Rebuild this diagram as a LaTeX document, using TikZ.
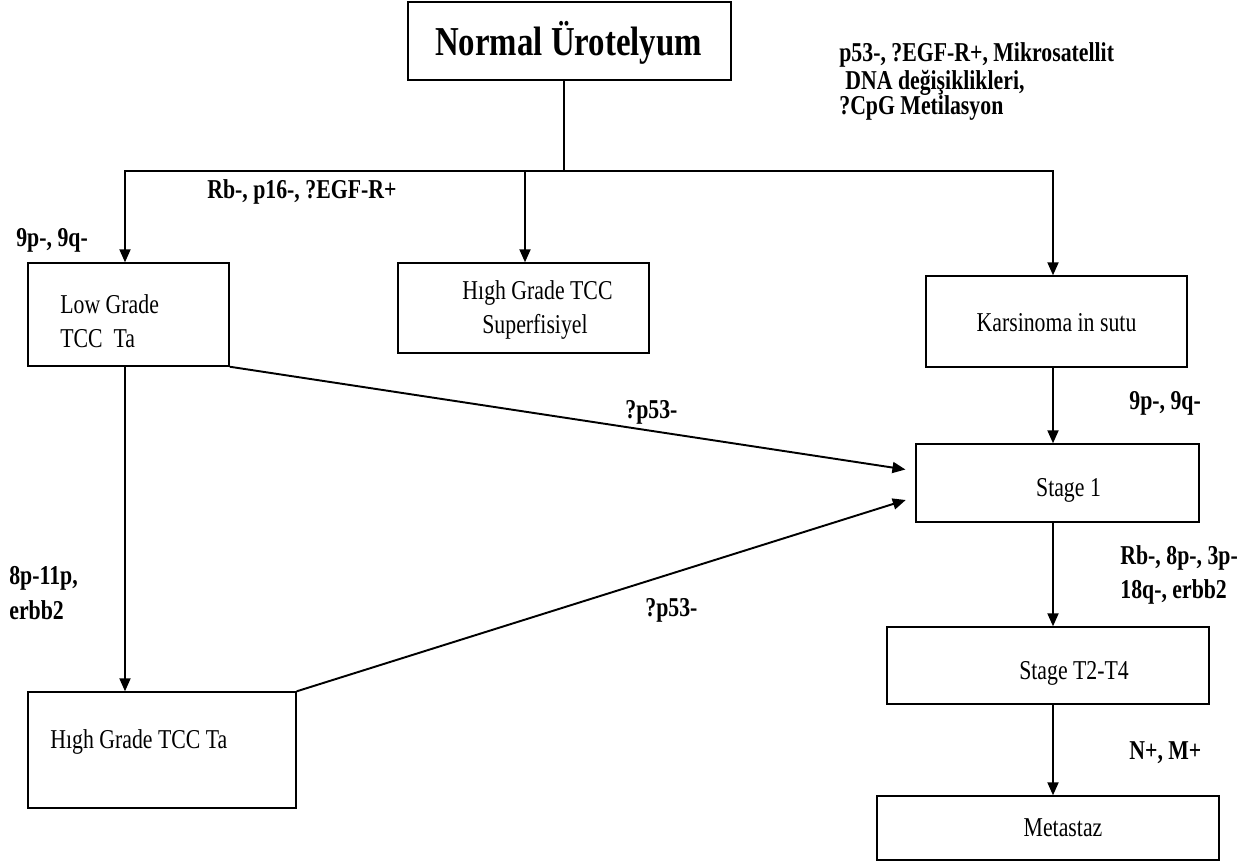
\documentclass[tikz,border=0pt]{standalone}
\usepackage{fontspec}
\usepackage{graphicx}
\setmainfont{Liberation Serif}
\usetikzlibrary{arrows.meta,fit}
\newcommand\vs[1]{\scalebox{1}[1.25]{#1}}
\begin{document}
\begin{tikzpicture}[x=0.02cm,y=-0.02cm,
  box/.style={draw, line width=0.8pt, inner sep=0pt},
  conn/.style={line width=1.1pt},
  arr/.style={conn, -{Triangle[length=0.26cm,width=0.22cm]}},
  lbl/.style={font=\bfseries\fontsize{12.4}{14}\selectfont, anchor=west, inner sep=0pt},
  txt/.style={font=\fontsize{12.4}{14}\selectfont, inner sep=0pt},
  ttl/.style={font=\bfseries\fontsize{18.7}{20}\selectfont, inner sep=0pt}]
\useasboundingbox (0,0) rectangle (1253,863);

% boxes
\node[box, fit={(408,2)(731,80)}] (norm) {};
\node[box, fit={(28,263)(229,366)}] (lg) {};
\node[box, fit={(398,263)(649,353)}] (hgs) {};
\node[box, fit={(926,276)(1187,367)}] (cis) {};
\node[box, fit={(916,444)(1199,522)}] (st1) {};
\node[box, fit={(887,627)(1209,704)}] (t24) {};
\node[box, fit={(877,796)(1219,860)}] (met) {};
\node[box, fit={(28,692)(296,808)}] (hgta) {};

% box texts
\node[ttl] (normt) at (568.5,43) {\vs{Normal Ürotelyum}};
\node[txt, anchor=west] (lgt1) at (60,304) {\vs{Low Grade}};
\node[txt, anchor=west] (lgt2) at (60,339) {\vs{TCC\ \ Ta}};
\node[txt] (hgst1) at (537.5,293) {\vs{Hıgh Grade TCC}};
\node[txt] (hgst2) at (535,327) {\vs{Superfisiyel}};
\node[txt] (cist) at (1056.5,323) {\vs{Karsinoma in sutu}};
\node[txt] (st1t) at (1068.5,490) {\vs{Stage 1}};
\node[txt] (t24t) at (1074,673) {\vs{Stage T2-T4}};
\node[txt] (mett) at (1063,828) {\vs{Metastaz}};
\node[txt, anchor=west] (hgtat) at (50,742) {\vs{Hıgh Grade TCC Ta}};

% labels
\node[lbl] (m1) at (839,55) {\vs{p53-, ?EGF-R+, Mikrosatellit}};
\node[lbl] (m2) at (845,83) {\vs{DNA değişiklikleri,}};
\node[lbl] (m3) at (839,108) {\vs{?CpG Metilasyon}};
\node[lbl] (rb) at (207,192) {\vs{Rb-, p16-, ?EGF-R+}};
\node[lbl] (l9) at (16,240) {\vs{9p-, 9q-}};
\node[lbl] (r9) at (1129,403) {\vs{9p-, 9q-}};
\node[lbl] (s1) at (1120,558) {\vs{Rb-, 8p-, 3p-}};
\node[lbl] (s2) at (1120,592) {\vs{18q-, erbb2}};
\node[lbl] (nm) at (1129,753) {\vs{N+, M+}};
\node[lbl] (e1) at (9,578) {\vs{8p-11p,}};
\node[lbl] (e2) at (9,610) {\vs{erbb2}};
\node[lbl] (p1) at (625,412) {\vs{?p53-}};
\node[lbl] (p2) at (645,610) {\vs{?p53-}};

% connectors
\coordinate (jl) at (125,171);
\coordinate (jm) at (525,171);
\coordinate (jn) at (564,171);
\coordinate (jr) at (1053,171);
\draw[conn] (norm.south -| jn) -- (jn);
\draw[arr] (jm) -- (jl) -- (lg.north -| jl);
\draw[arr] (jm) -- (jr) -- (cis.north -| jr);
\draw[arr] (jm) -- (hgs.north -| jm);
\draw[arr] (cis.south -| jr) -- (st1.north -| jr);
\draw[arr] (st1.south -| jr) -- (t24.north -| jr);
\draw[arr] (t24.south -| jr) -- (met.north -| jr);
\draw[arr] (lg.south -| jl) -- (hgta.north -| jl);
\draw[arr, shorten >=0.2cm] (lg.south east) -- ([yshift=0.24cm]st1.west);
\draw[arr, shorten >=0.2cm] (hgta.north east) -- ([yshift=-0.28cm]st1.west);
\end{tikzpicture}
\end{document}
